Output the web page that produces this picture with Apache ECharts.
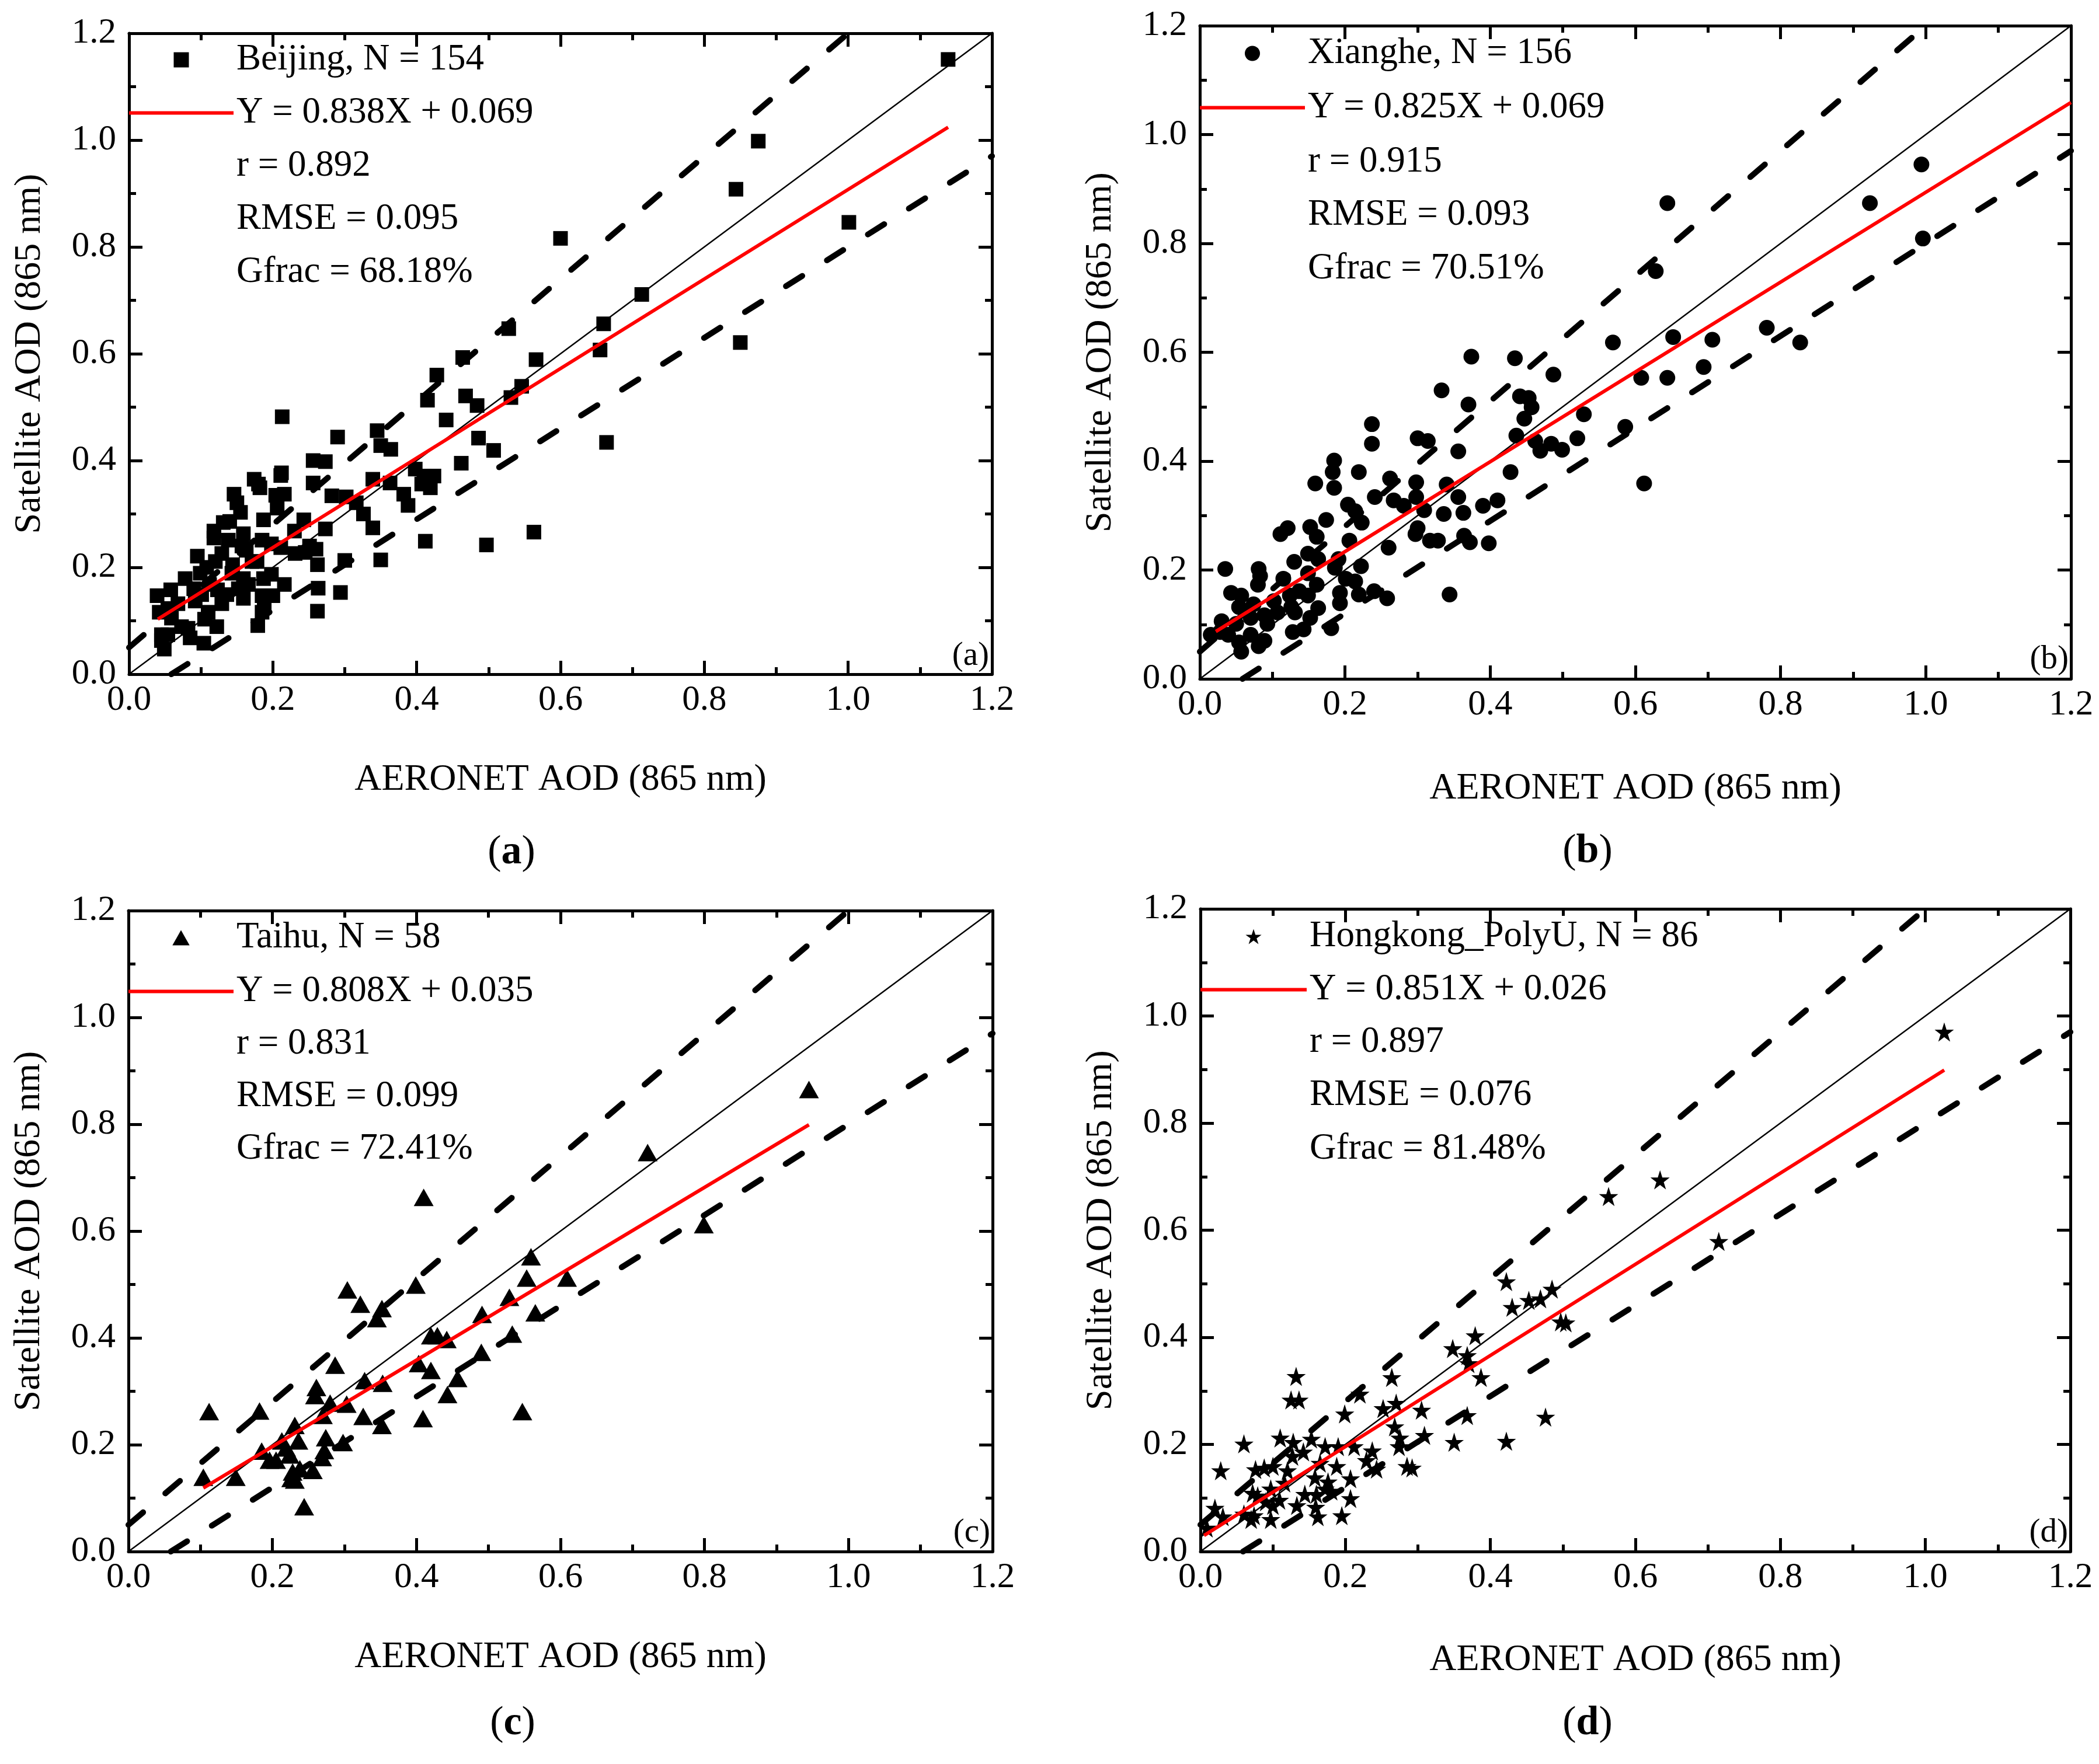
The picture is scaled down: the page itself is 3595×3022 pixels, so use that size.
<!DOCTYPE html>
<html>
<head>
<meta charset="utf-8">
<title>Satellite vs AERONET AOD</title>
<script src="https://cdn.jsdelivr.net/npm/echarts@6.0.0/dist/echarts.min.js"></script>
<style>
	html, body { margin: 0; padding: 0; background: #fff; }
	#chart { width: 3595px; height: 3022px; }
</style>
</head>
<body>
<div id="chart"></div>
<script>
// ---- data ----
var beijing = [[1.139,1.151],[0.875,0.998],[0.844,0.908],[1.001,0.846],[0.600,0.816],[0.713,0.711],[0.528,0.647],[0.660,0.656],
	[0.655,0.607],[0.850,0.621],[0.566,0.589],[0.464,0.593],[0.428,0.560],[0.546,0.539],[0.531,0.518],[0.415,0.513],[0.468,0.521],
	[0.484,0.503],[0.441,0.476],[0.213,0.482],[0.345,0.456],[0.290,0.444],[0.486,0.442],[0.507,0.419],[0.350,0.428],[0.364,0.421],
	[0.664,0.434],[0.462,0.395],[0.256,0.400],[0.273,0.398],[0.398,0.384],[0.212,0.377],[0.211,0.372],[0.410,0.371],[0.424,0.371],
	[0.174,0.365],[0.339,0.365],[0.363,0.358],[0.407,0.356],[0.419,0.349],[0.256,0.358],[0.182,0.349],[0.146,0.337],[0.216,0.337],
	[0.150,0.321],[0.282,0.334],[0.302,0.332],[0.382,0.337],[0.316,0.321],[0.388,0.316],[0.206,0.311],[0.155,0.303],[0.326,0.300],
	[0.187,0.289],[0.243,0.289],[0.131,0.284],[0.118,0.268],[0.273,0.272],[0.339,0.274],[0.230,0.268],[0.118,0.255],[0.159,0.263],
	[0.138,0.251],[0.185,0.251],[0.412,0.249],[0.198,0.244],[0.497,0.242],[0.563,0.266],[0.251,0.240],[0.211,0.237],[0.260,0.234],
	[0.129,0.226],[0.163,0.232],[0.231,0.226],[0.245,0.228],[0.262,0.205],[0.300,0.213],[0.350,0.214],[0.171,0.211],[0.095,0.221],
	[0.144,0.205],[0.099,0.189],[0.198,0.187],[0.187,0.179],[0.078,0.179],[0.112,0.168],[0.166,0.168],[0.123,0.158],[0.152,0.160],
	[0.185,0.147],[0.263,0.161],[0.294,0.153],[0.039,0.147],[0.058,0.158],[0.101,0.149],[0.136,0.149],[0.159,0.142],[0.200,0.147],
	[0.092,0.137],[0.129,0.132],[0.188,0.126],[0.262,0.118],[0.068,0.132],[0.054,0.123],[0.110,0.116],[0.042,0.116],[0.105,0.103],
	[0.179,0.091],[0.122,0.089],[0.082,0.086],[0.045,0.074],[0.085,0.068],[0.104,0.058],[0.049,0.047],[0.045,0.063],[0.185,0.116],
	[0.059,0.105],[0.073,0.089],[0.054,0.074],[0.090,0.160],[0.178,0.211],[0.157,0.240],[0.140,0.286],[0.180,0.356],[0.204,0.335],
	[0.120,0.211],[0.108,0.200],[0.143,0.189],[0.159,0.179],[0.216,0.168]];

var xianghe = [[0.994,0.945],[0.996,0.809],[0.923,0.874],[0.644,0.874],[0.628,0.749],[0.569,0.618],[0.652,0.628],[0.706,0.623],
	[0.781,0.645],[0.827,0.618],[0.694,0.573],[0.608,0.553],[0.644,0.553],[0.586,0.463],[0.612,0.359],[0.374,0.592],[0.434,0.589],
	[0.487,0.559],[0.333,0.530],[0.370,0.504],[0.441,0.519],[0.453,0.516],[0.457,0.499],[0.447,0.478],[0.529,0.486],[0.237,0.468],
	[0.237,0.432],[0.300,0.442],[0.314,0.437],[0.356,0.418],[0.436,0.447],[0.462,0.437],[0.469,0.419],[0.484,0.432],[0.499,0.421],
	[0.520,0.442],[0.428,0.380],[0.185,0.401],[0.183,0.380],[0.219,0.380],[0.159,0.359],[0.185,0.351],[0.262,0.368],[0.298,0.361],
	[0.340,0.357],[0.356,0.334],[0.298,0.334],[0.241,0.334],[0.267,0.328],[0.410,0.328],[0.390,0.318],[0.281,0.318],[0.309,0.310],
	[0.336,0.303],[0.363,0.305],[0.204,0.320],[0.214,0.308],[0.223,0.287],[0.174,0.292],[0.121,0.277],[0.111,0.266],[0.152,0.279],
	[0.300,0.277],[0.161,0.261],[0.297,0.266],[0.364,0.263],[0.317,0.254],[0.328,0.254],[0.372,0.251],[0.398,0.249],[0.260,0.241],
	[0.206,0.254],[0.149,0.230],[0.191,0.220],[0.163,0.220],[0.130,0.215],[0.035,0.202],[0.081,0.202],[0.222,0.207],[0.186,0.204],
	[0.149,0.194],[0.201,0.184],[0.214,0.179],[0.161,0.173],[0.080,0.173],[0.137,0.161],[0.240,0.161],[0.219,0.155],[0.344,0.155],
	[0.258,0.148],[0.193,0.158],[0.193,0.139],[0.043,0.158],[0.057,0.153],[0.124,0.153],[0.149,0.153],[0.102,0.143],[0.074,0.137],
	[0.054,0.132],[0.126,0.132],[0.163,0.130],[0.181,0.093],[0.152,0.112],[0.131,0.122],[0.107,0.122],[0.089,0.117],[0.070,0.112],
	[0.030,0.106],[0.050,0.101],[0.028,0.086],[0.039,0.081],[0.128,0.086],[0.143,0.091],[0.093,0.101],[0.070,0.081],[0.089,0.070],
	[0.081,0.060],[0.057,0.050],[0.054,0.067],[0.015,0.081],[0.115,0.184],[0.083,0.189]];

var taihu = [[0.945,0.865],[0.721,0.747],[0.410,0.663],[0.799,0.612],[0.559,0.552],[0.553,0.512],[0.609,0.512],[0.399,0.499],
	[0.304,0.490],[0.322,0.463],[0.352,0.455],[0.345,0.436],[0.529,0.476],[0.491,0.444],[0.565,0.447],[0.533,0.407],[0.420,0.404],
	[0.429,0.404],[0.442,0.397],[0.490,0.373],[0.287,0.349],[0.403,0.352],[0.420,0.339],[0.457,0.324],[0.328,0.320],[0.353,0.315],
	[0.261,0.307],[0.259,0.292],[0.280,0.278],[0.303,0.276],[0.270,0.255],[0.326,0.253],[0.443,0.294],[0.409,0.249],[0.352,0.236],
	[0.547,0.262],[0.112,0.262],[0.182,0.263],[0.231,0.236],[0.236,0.207],[0.274,0.213],[0.298,0.204],[0.185,0.188],[0.219,0.194],
	[0.196,0.171],[0.205,0.171],[0.224,0.181],[0.272,0.189],[0.269,0.176],[0.228,0.149],[0.238,0.155],[0.256,0.152],[0.226,0.137],
	[0.231,0.134],[0.149,0.139],[0.104,0.139],[0.244,0.084],[0.213,0.207]];

var hongkong = [[1.026,0.970],[0.634,0.694],[0.563,0.663],[0.715,0.579],[0.422,0.504],[0.430,0.456],[0.453,0.469],[0.469,0.472],
	[0.485,0.490],[0.497,0.429],[0.504,0.427],[0.348,0.379],[0.379,0.403],[0.368,0.366],[0.370,0.351],[0.387,0.325],[0.476,0.251],
	[0.368,0.254],[0.350,0.204],[0.422,0.206],[0.132,0.327],[0.125,0.283],[0.136,0.283],[0.264,0.325],[0.220,0.294],[0.252,0.267],
	[0.270,0.277],[0.305,0.264],[0.199,0.257],[0.268,0.233],[0.275,0.212],[0.274,0.196],[0.309,0.217],[0.285,0.159],[0.292,0.156],
	[0.060,0.201],[0.110,0.212],[0.128,0.204],[0.153,0.210],[0.142,0.186],[0.172,0.196],[0.190,0.196],[0.212,0.196],[0.237,0.188],
	[0.229,0.170],[0.243,0.154],[0.088,0.156],[0.100,0.159],[0.120,0.151],[0.028,0.151],[0.165,0.165],[0.188,0.159],[0.158,0.138],
	[0.207,0.136],[0.176,0.130],[0.172,0.117],[0.097,0.117],[0.072,0.109],[0.079,0.104],[0.144,0.107],[0.160,0.107],[0.109,0.096],
	[0.090,0.093],[0.207,0.099],[0.133,0.086],[0.159,0.083],[0.020,0.081],[0.100,0.086],[0.060,0.070],[0.074,0.067],[0.070,0.060],
	[0.031,0.065],[0.009,0.044],[0.162,0.065],[0.195,0.067],[0.097,0.060],[0.181,0.113],[0.116,0.128],[0.127,0.178],[0.076,0.153]];

var sitePoints = [beijing, xianghe, taihu, hongkong];
var siteNames = ['Beijing, N = 154', 'Xianghe, N = 156', 'Taihu, N = 58', 'Hongkong_PolyU, N = 86'];
var fitNames = ['Y = 0.838X + 0.069', 'Y = 0.825X + 0.069', 'Y = 0.808X + 0.035', 'Y = 0.851X + 0.026'];
var rLabels = ['r = 0.892', 'r = 0.915', 'r = 0.831', 'r = 0.897'];
var rmseLabels = ['RMSE = 0.095', 'RMSE = 0.093', 'RMSE = 0.099', 'RMSE = 0.076'];
var gfracLabels = ['Gfrac = 68.18%', 'Gfrac = 70.51%', 'Gfrac = 72.41%', 'Gfrac = 81.48%'];
var panelLetters = ['a', 'b', 'c', 'd'];
// regression line end points (x from the smallest to the largest AERONET value)
var fitLines = [[[0.040,0.103],[1.139,1.024]], [[0.022,0.087],[1.2,1.059]],
	[[0.104,0.119],[0.945,0.799]], [[0.005,0.030],[1.026,0.899]]];
var oneToOne = [[0,0],[1.2,1.2]];
var upperEE = [[0,0.05],[1.0,1.2]];     // y = 1.15x + 0.05
var lowerEE = [[0.0588,0],[1.2,0.97]];  // y = 0.85x - 0.05
var axisMin = 0, axisMax = 1.2, axisStep = 0.2;

// ---- layout ----
var FONT = '"Liberation Serif", "Times New Roman", serif';
var layout = [
	{grid: {left: 221, top: 57, width: 1478, height: 1098}, xGap: 149, legTop: 71, legGap: 28, textX: 405, rows: [284, 375, 466], tag: [876, 1461], corner: [1694, 1124]},
	{grid: {left: 2055, top: 44, width: 1492, height: 1119}, xGap: 156, legTop: 60, legGap: 30, textX: 2240, rows: [277, 368, 460], tag: [2719, 1459], corner: [3543, 1130]},
	{grid: {left: 220, top: 1560, width: 1480, height: 1098}, xGap: 149, legTop: 1575, legGap: 29, textX: 405, rows: [1788, 1878, 1968], tag: [878, 2953], corner: [1696, 2626]},
	{grid: {left: 2056, top: 1557, width: 1490, height: 1101}, xGap: 154, legTop: 1573, legGap: 28, textX: 2243, rows: [1785, 1876, 1968], tag: [2719, 2953], corner: [3542, 2626]}
];
var symbols = ['rect', 'circle', 'triangle',
	'path://M50,0 L61.2,34.5 L97.6,34.5 L68.2,55.9 L79.4,90.5 L50,69.1 L20.6,90.5 L31.8,55.9 L2.4,34.5 L38.8,34.5 Z'];
var symbolSizes = [25, 27, [34, 30], 33];
// legend icons (paths keep their aspect ratio inside the legend box)
var legendIcons = ['path://M0,0 H10 V10 H0 Z', 'circle', 'path://M17,0 L34,30 L0,30 Z', symbols[3]];
var fitIcon = 'path://M0,0 H180 V6 H0 Z';

var black = '#000';
var red = '#ff0000';

function baseAxis(g, pos, labelled) {
	var ax = {
		gridIndex: g, type: 'value', position: pos,
		min: axisMin, max: axisMax, interval: axisStep,
		axisLine: {show: true, onZero: false, lineStyle: {color: black, width: 5}},
		axisTick: {show: true, inside: true, length: 23, lineStyle: {color: black, width: 5}},
		minorTick: {show: true, splitNumber: 2, length: 12, lineStyle: {color: black, width: 5}},
		splitLine: {show: false},
		minorSplitLine: {show: false},
		axisLabel: {show: labelled, margin: 14, fontSize: 61, fontFamily: FONT, color: black,
			formatter: function (v) { return v.toFixed(1); }}
	};
	return ax;
}

var grids = [], xAxes = [], yAxes = [], series = [], legends = [], graphics = [];

for (var i = 0; i < 4; i++) {
	var L = layout[i];
	grids.push(L.grid);

	var xb = baseAxis(i, 'bottom', true);
	xb.name = 'AERONET AOD (865 nm)';
	xb.nameLocation = 'middle';
	xb.nameGap = L.xGap;
	xb.nameTextStyle = {fontSize: 64, fontFamily: FONT, color: black};
	xAxes.push(xb);
	xAxes.push(baseAxis(i, 'top', false));

	var yl = baseAxis(i, 'left', true);
	yl.axisLabel.margin = 22;
	yl.name = 'Satellite AOD (865 nm)';
	yl.nameLocation = 'middle';
	yl.nameGap = 138;
	yl.nameTextStyle = {fontSize: 64, fontFamily: FONT, color: black};
	yAxes.push(yl);
	yAxes.push(baseAxis(i, 'right', false));

	var xi = i * 2, yi = i * 2;
	series.push({
		name: siteNames[i], type: 'scatter', xAxisIndex: xi, yAxisIndex: yi,
		data: sitePoints[i], symbol: symbols[i], symbolSize: symbolSizes[i],
		itemStyle: {color: black, opacity: 1}, z: 2
	});
	series.push({
		type: 'line', xAxisIndex: xi, yAxisIndex: yi, data: oneToOne, symbol: 'none',
		lineStyle: {color: black, width: 2.5}, z: 3
	});
	series.push({
		type: 'line', xAxisIndex: xi, yAxisIndex: yi, data: upperEE, symbol: 'none',
		lineStyle: {color: black, width: 10, type: [33, 50], cap: 'round'}, z: 3
	});
	series.push({
		type: 'line', xAxisIndex: xi, yAxisIndex: yi, data: lowerEE, symbol: 'none',
		lineStyle: {color: black, width: 10, type: [33, 50], cap: 'round'}, z: 3
	});
	series.push({
		name: fitNames[i], type: 'line', xAxisIndex: xi, yAxisIndex: yi, data: fitLines[i], symbol: 'none',
		lineStyle: {color: red, width: 6}, itemStyle: {color: red}, z: 4
	});

	legends.push({
		data: [{name: siteNames[i], icon: legendIcons[i]}, {name: fitNames[i], icon: fitIcon}],
		orient: 'vertical', selectedMode: false, symbolKeepAspect: true,
		left: L.grid.left, top: L.legTop, itemWidth: L.textX - L.grid.left - 5, itemHeight: 26, itemGap: L.legGap,
		padding: 0,
		textStyle: {fontSize: 63, fontFamily: FONT, color: black, lineHeight: 62}
	});

	var extra = [rLabels[i], rmseLabels[i], gfracLabels[i]];
	for (var k = 0; k < 3; k++) {
		graphics.push({
			type: 'text', x: L.textX, y: L.rows[k], silent: true,
			style: {text: extra[k], fontSize: 63, fontFamily: FONT, fill: black, align: 'left', verticalAlign: 'middle'}
		});
	}
	graphics.push({
		type: 'text', x: L.corner[0], y: L.corner[1], silent: true,
		style: {text: '(' + panelLetters[i] + ')', fontSize: 57, fontFamily: FONT, fill: black, align: 'right', verticalAlign: 'middle'}
	});
	graphics.push({
		type: 'text', x: L.tag[0], y: L.tag[1], silent: true,
		style: {
			text: '{n|(}{b|' + panelLetters[i] + '}{n|)}', align: 'center', verticalAlign: 'middle',
			rich: {
				n: {fontSize: 70, fontFamily: FONT, fill: black, color: black},
				b: {fontSize: 70, fontFamily: FONT, fontWeight: 'bold', fill: black, color: black}
			}
		}
	});
}

var chart = echarts.init(document.getElementById('chart'));
chart.setOption({
	animation: false,
	backgroundColor: '#fff',
	grid: grids,
	xAxis: xAxes,
	yAxis: yAxes,
	legend: legends,
	series: series,
	graphic: graphics
});
</script>
</body>
</html>
